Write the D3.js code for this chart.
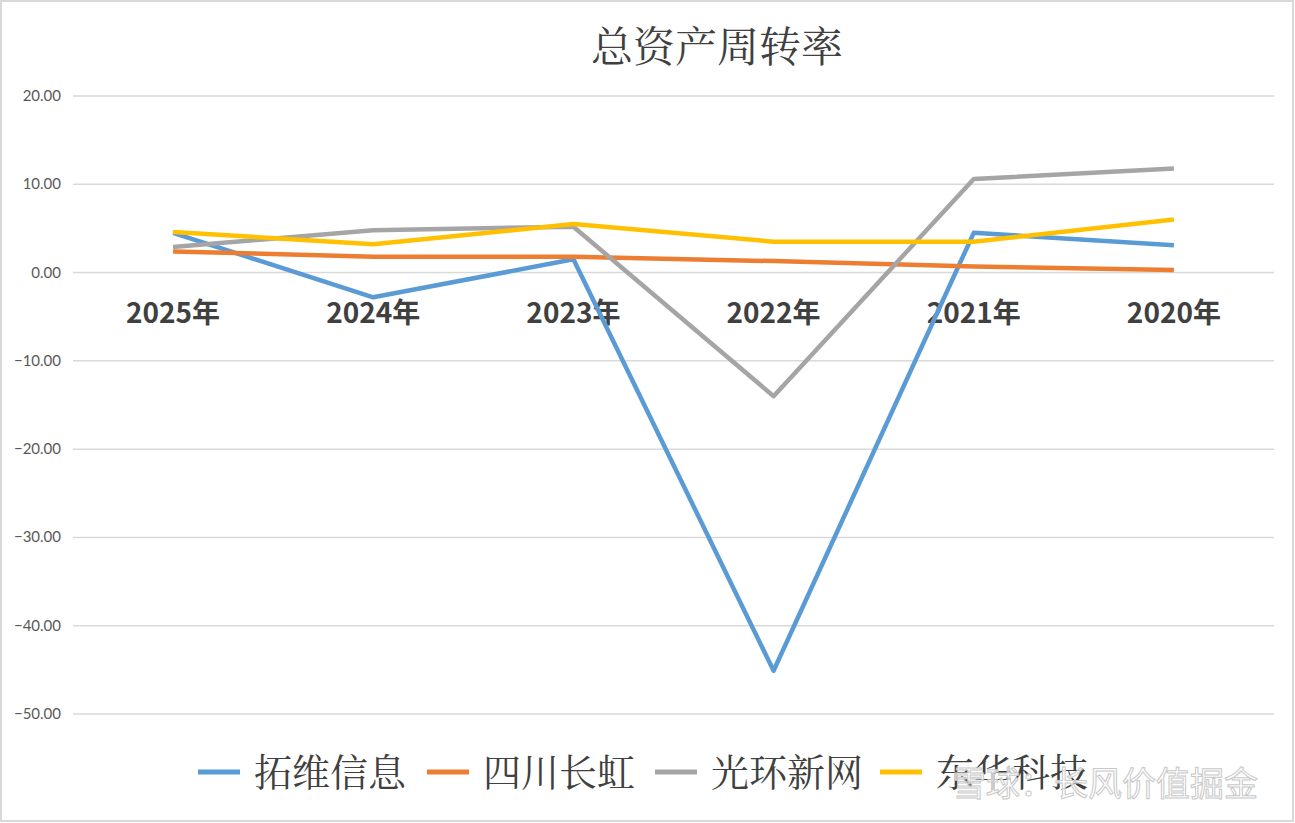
<!DOCTYPE html>
<html lang="zh">
<head>
    <meta charset="UTF-8">
    <title>总资产周转率</title>
    <style>
        body { margin: 0; background: #fff; }
        .grid line { stroke: #d9d9d9; stroke-width: 1.5px; }
        .line { fill: none; stroke-width: 4.5px; stroke-linejoin: round; }
    </style>
    <script src="https://d3js.org/d3.v7.min.js"></script>
</head>
<body>
    <svg width="1295" height="823"></svg>

    <script>
        // data
        const years = ["2025年", "2024年", "2023年", "2022年", "2021年", "2020年"];
        const names = ["拓维信息", "四川长虹", "光环新网", "东华科技"];
        const tuowei = [4.5, -2.8, 1.5, -45.1, 4.5, 3.1];
        const changhong = [2.4, 1.8, 1.8, 1.3, 0.7, 0.3];
        const guanghuan = [2.9, 4.8, 5.2, -14.0, 10.6, 11.8];
        const donghua = [4.6, 3.2, 5.5, 3.5, 3.5, 6.0];
        const yTicks = [20, 10, 0, -10, -20, -30, -40, -50];
        const colors = ["#5B9BD5", "#ED7D31", "#A5A5A5", "#FFC000"];

        const series = [tuowei, changhong, guanghuan, donghua];

        const svg = d3.select("svg");

        // outer chart border
        svg.append("rect")
            .attr("x", 1).attr("y", 1)
            .attr("width", 1292).attr("height", 820)
            .attr("fill", "#fff")
            .attr("stroke", "#d9d9d9")
            .attr("stroke-width", 2);

        const x = d3.scaleBand().domain(years).range([73, 1274]);
        const y = d3.scaleLinear().domain([-50, 20]).range([714, 96]);

        // title
        svg.append("text")
            .attr("x", 717).attr("y", 62)
            .attr("text-anchor", "middle")
            .attr("font-family", "Noto Serif CJK SC, Noto Sans CJK SC, sans-serif")
            .attr("font-size", 42)
            .attr("fill", "#404040")
            .text("总资产周转率");

        // gridlines + y labels
        const grid = svg.append("g").attr("class", "grid");
        grid.selectAll("line").data(yTicks).join("line")
            .attr("x1", 73).attr("x2", 1274)
            .attr("y1", d => y(d)).attr("y2", d => y(d));

        svg.append("g").selectAll("text").data(yTicks).join("text")
            .attr("x", 61)
            .attr("y", d => y(d) + 5)
            .attr("text-anchor", "end")
            .attr("font-family", "Lato, 'Open Sans', sans-serif")
            .attr("font-size", 15)
            .attr("fill", "#595959")
            .text(d => d3.format(".2f")(d));

        // category labels sit just below the zero line
        svg.append("g").selectAll("text").data(years).join("text")
            .attr("x", d => x(d) + x.bandwidth() / 2)
            .attr("y", y(0) + 50)
            .attr("text-anchor", "middle")
            .attr("font-family", "Noto Sans CJK SC, sans-serif")
            .attr("font-weight", "bold")
            .attr("font-size", 28)
            .attr("fill", "#404040")
            .text(d => d);

        // lines
        const line = d3.line()
            .x((d, i) => x(years[i]) + x.bandwidth() / 2)
            .y(d => y(d));

        svg.append("g").selectAll("path").data(series).join("path")
            .attr("class", "line")
            .attr("stroke", (d, i) => colors[i])
            .attr("d", line);

        // legend
        const legendX = [198, 427, 655, 880];
        const legend = svg.append("g").selectAll("g").data(names).join("g")
            .attr("transform", (d, i) => `translate(${legendX[i]},772)`);
        legend.append("line")
            .attr("x1", 0).attr("x2", 42)
            .attr("stroke", (d, i) => colors[i])
            .attr("stroke-width", 5);
        legend.append("text")
            .attr("x", 56).attr("y", 14)
            .attr("font-family", "Noto Serif CJK SC, Noto Sans CJK SC, sans-serif")
            .attr("font-size", 38)
            .attr("fill", "#404040")
            .text(d => d);

        // watermark
        svg.append("text")
            .attr("x", 1258).attr("y", 796)
            .attr("text-anchor", "end")
            .attr("font-family", "Noto Sans CJK SC, sans-serif")
            .attr("font-size", 34)
            .attr("fill", "#fff")
            .attr("fill-opacity", 0.75)
            .attr("stroke", "#c8c8c8")
            .attr("stroke-width", 1)
            .text("雪球：长风价值掘金");
    </script>
</body>
</html>
